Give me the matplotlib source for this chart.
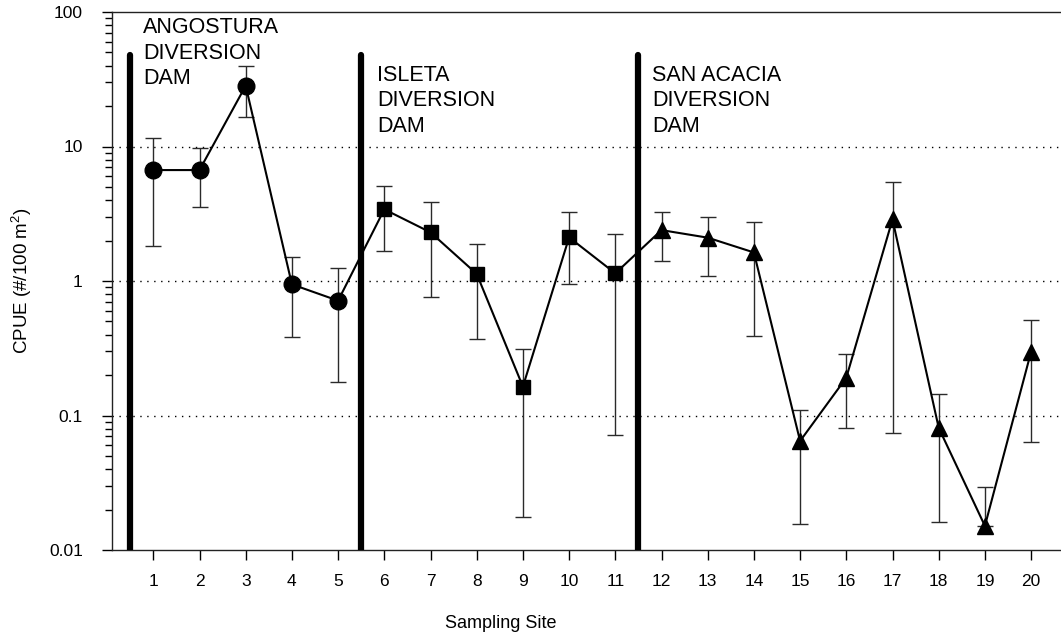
import matplotlib
matplotlib.use("Agg")
import matplotlib.pyplot as plt
import numpy as np
from matplotlib.ticker import LogLocator, FixedLocator, NullFormatter, FixedFormatter

plt.rcParams['font.family'] = ['Liberation Sans', 'DejaVu Sans']
plt.rcParams['mathtext.fontset'] = 'custom'
plt.rcParams['mathtext.rm'] = 'Liberation Sans'
plt.rcParams['mathtext.default'] = 'regular'

# Sampling sites and CPUE (mean with lower/upper bounds)
sites = list(range(1, 21))
cpue = [6.68, 6.68, 28.3, 0.944, 0.714, 3.41, 2.30, 1.13, 0.164, 2.11,
        1.14, 2.39, 2.10, 1.63, 0.0646, 0.191, 2.87, 0.081, 0.0151, 0.298]
upper = [11.5, 9.69, 39.9, 1.50, 1.24, 5.08, 3.87, 1.87, 0.310, 3.28,
         2.22, 3.24, 3.00, 2.76, 0.110, 0.286, 5.47, 0.144, 0.0292, 0.515]
lower = [1.83, 3.57, 16.5, 0.385, 0.177, 1.67, 0.764, 0.371, 0.0175, 0.95,
         0.0713, 1.41, 1.09, 0.392, 0.0156, 0.081, 0.0745, 0.0162, 0.0151, 0.0635]

# Reach groups between diversion dams
reach_sites = [[1, 2, 3, 4, 5], [6, 7, 8, 9, 10, 11], [12, 13, 14, 15, 16, 17, 18, 19, 20]]
reach_markers = ['o', 's', '^']
reach_marker_sizes = [12, 10.5, 12]

# Diversion dams
dam_positions = [0.5, 5.5, 11.5]
dam_labels = ["ANGOSTURA\nDIVERSION\nDAM", "ISLETA\nDIVERSION\nDAM", "SAN ACACIA\nDIVERSION\nDAM"]
dam_top = 48

y_ticks = [0.01, 0.1, 1, 10, 100]
y_tick_labels = ["0.01", "0.1", "1", "10", "100"]

W, H = 1061, 640
fig = plt.figure(figsize=(W / 100, H / 100), dpi=100)
ax = fig.add_axes([112 / W, (H - 550) / H, (W - 112) / W, 538 / H])

ax.set_yscale('log')
ax.set_ylim(0.01, 100)
px_per_site = 46.2
x_left = 1 + (112 - 153.3) / px_per_site
x_right = 1 + (W - 153.3) / px_per_site
ax.set_xlim(x_left, x_right)

# Dotted gridlines at the inner decades
for g in [0.1, 1, 10]:
    ax.axhline(g, color='black', lw=1.0, ls=(0, (1, 4)), zorder=1)

# Dam lines
for xd in dam_positions:
    ax.plot([xd, xd], [0.01, dam_top], color='black', lw=4.5,
            solid_capstyle='round', zorder=3)

# Error bars
cpue_a = np.array(cpue)
yerr = np.vstack([cpue_a - np.array(lower), np.array(upper) - cpue_a])
ax.errorbar(sites, cpue, yerr=yerr, fmt='none', ecolor='#2a2a2a',
            elinewidth=1.0, capsize=6, capthick=1.0, zorder=4)

# Connecting line
ax.plot(sites, cpue, color='black', lw=1.5, zorder=5)

# Markers by reach
for grp, m, ms in zip(reach_sites, reach_markers, reach_marker_sizes):
    idx = [s - 1 for s in grp]
    ax.plot([sites[i] for i in idx], [cpue[i] for i in idx], ls='none',
            marker=m, ms=ms, color='black', zorder=6)

# Dam labels
label_kw = dict(transform=ax.get_xaxis_transform(), ha='left', va='top',
                fontsize=15.5, linespacing=1.28)
ax.text(0.777, 0.990, dam_labels[0], **label_kw)
ax.text(5.84, 0.902, dam_labels[1], **label_kw)
ax.text(11.79, 0.902, dam_labels[2], **label_kw)

# Axes styling
ax.spines['right'].set_visible(False)
for sp in ['left', 'bottom', 'top']:
    ax.spines[sp].set_linewidth(1.0)
    ax.spines[sp].set_color('#222222')

ax.set_xticks(sites)
ax.set_xticklabels([str(s) for s in sites])
ax.yaxis.set_major_locator(FixedLocator(y_ticks))
ax.yaxis.set_major_formatter(FixedFormatter(y_tick_labels))
ax.yaxis.set_minor_locator(LogLocator(base=10, subs=np.arange(2, 10), numticks=20))
ax.yaxis.set_minor_formatter(NullFormatter())

ax.tick_params(axis='x', which='major', direction='out', length=7, width=1,
               pad=10, labelsize=12.5)
ax.tick_params(axis='y', which='major', direction='out', length=7, width=1,
               pad=14, labelsize=12.5)
ax.tick_params(axis='y', which='minor', direction='out', length=5, width=1)

ax.set_xlabel("Sampling Site", fontsize=13, labelpad=19)
ax.xaxis.label.set_x(0.41)
ax.set_ylabel("CPUE (#/100 m$^2$)", fontsize=13.5, labelpad=11)

fig.savefig("out.png", dpi=100)
